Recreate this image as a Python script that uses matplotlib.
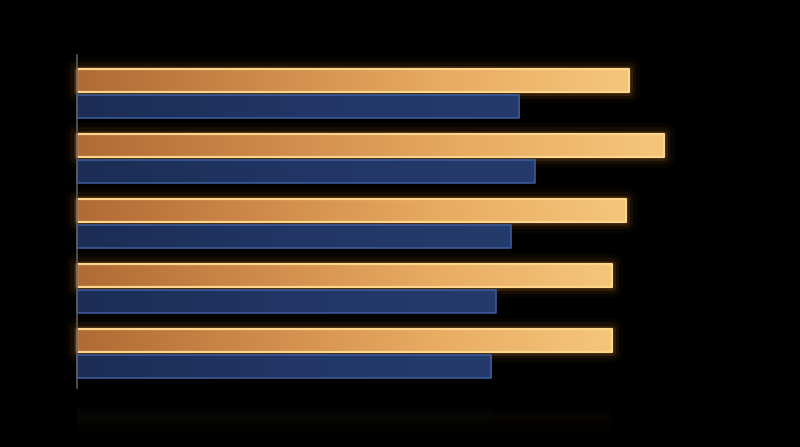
import numpy as np
import matplotlib.pyplot as plt
from matplotlib.colors import LinearSegmentedColormap

# dane (jednostki umowne)
kategorie = ["A", "B", "C", "D", "E"]
seria_pomaranczowa = [92.0, 97.8, 91.5, 89.2, 89.2]
seria_niebieska = [73.7, 76.3, 72.3, 69.8, 69.0]

fig = plt.figure(figsize=(8, 4.47), dpi=100, facecolor="black")
ax = fig.add_axes([0, 0, 1, 1], facecolor="black")

y = np.arange(len(kategorie))
h = 0.354
off = 0.2

cmap_or = LinearSegmentedColormap.from_list("or", ["#b06a34", "#cf8a4a", "#e8ac62", "#f4c67c"])
cmap_bl = LinearSegmentedColormap.from_list("bl", ["#1b2d55", "#213666", "#243b6c"])
grad = np.linspace(0, 1, 256).reshape(1, -1)

# poswiata wokol pomaranczowych slupkow
for lw, a in [(16, 0.035), (10, 0.06), (5, 0.12)]:
    ax.barh(y - off, seria_pomaranczowa, height=h, color="none",
            edgecolor="#ff9a30", linewidth=lw, alpha=a, joinstyle="round", zorder=1)

bary_or = ax.barh(y - off, seria_pomaranczowa, height=h, color="none",
                  edgecolor="#ffd58e", linewidth=1.6, joinstyle="round", zorder=4)
bary_bl = ax.barh(y + off, seria_niebieska, height=h, color="none",
                  edgecolor="#3b5a98", linewidth=1.2, joinstyle="round", zorder=4)

for bary, cmap in [(bary_or, cmap_or), (bary_bl, cmap_bl)]:
    for b in bary:
        x0, y0 = b.get_x(), b.get_y()
        im = ax.imshow(grad, cmap=cmap, aspect="auto", zorder=3,
                       extent=(x0, x0 + b.get_width(), y0 + b.get_height(), y0))
        im.set_clip_path(b)

# slabe, rozmyte odbicie pod wykresem
for dy, a in [(0.0, 0.018), (0.08, 0.015), (0.16, 0.012), (0.24, 0.008)]:
    ax.barh([4.95 + dy], [seria_pomaranczowa[-1]], height=0.16, color="#ffa040",
            alpha=a, linewidth=0, zorder=1)
    ax.barh([4.85 + dy], [seria_niebieska[-1]], height=0.16, color="#4060a0",
            alpha=a, linewidth=0, zorder=1)

ax.plot([0, 0], [-0.585, 4.54], color="#5a5a5a", linewidth=1.2, zorder=5)

ax.set_xlim(-12.83, 120.5)
ax.set_ylim(5.446, -1.431)
ax.axis("off")

fig.savefig("out.png", dpi=100, facecolor="black")
